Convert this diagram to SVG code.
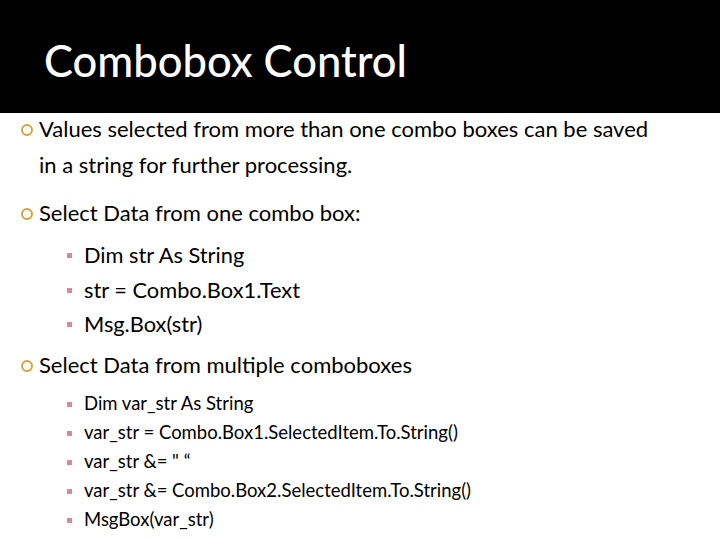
<svg xmlns="http://www.w3.org/2000/svg" width="720" height="540" viewBox="0 0 720 540">
<style>
text{font-family:Lato,"Open Sans",sans-serif;fill:#000}
.t{font-size:43.5px;fill:#fff;font-weight:500}
.l1{font-size:22px}
.l2{font-size:21.8px}
.l3{font-size:18.5px}
.c{fill:none;stroke:#d4a53a;stroke-width:2}
.s{fill:#d58a98}
</style>
<rect width="720" height="540" fill="#fff"/>
<rect width="720" height="113" fill="#000"/>
<text class="t" x="44" y="77">Combobox Control</text>
<g id="b1"><circle class="c" cx="27" cy="130" r="5"/>
<text class="l1" x="39" y="137">Values selected from more than one combo boxes can be saved</text>
<text class="l1" x="39" y="173">in a string for further processing.</text></g>
<g id="b2"><circle class="c" cx="27" cy="214" r="5"/>
<text class="l1" x="39" y="221">Select Data from one combo box:</text></g>
<g id="s1">
<rect class="s" x="67" y="253" width="5" height="5"/><text class="l2" x="84" y="263">Dim str As String</text>
<rect class="s" x="67" y="288" width="5" height="5"/><text class="l2" x="84" y="298">str = Combo.Box1.Text</text>
<rect class="s" x="67" y="322" width="5" height="5"/><text class="l2" x="84" y="332">Msg.Box(str)</text></g>
<g id="b3"><circle class="c" cx="27" cy="366" r="5"/>
<text class="l1" x="39" y="373">Select Data from multiple comboboxes</text></g>
<g id="s2">
<rect class="s" x="67" y="402" width="5" height="5"/><text class="l3" x="84" y="410">Dim var_str As String</text>
<rect class="s" x="67" y="431" width="5" height="5"/><text class="l3" x="84" y="439">var_str = Combo.Box1.SelectedItem.To.String()</text>
<rect class="s" x="67" y="460" width="5" height="5"/><text class="l3" x="84" y="468">var_str &amp;= " “</text>
<rect class="s" x="67" y="489" width="5" height="5"/><text class="l3" x="84" y="497">var_str &amp;= Combo.Box2.SelectedItem.To.String()</text>
<rect class="s" x="67" y="518" width="5" height="5"/><text class="l3" x="84" y="526">MsgBox(var_str)</text></g>
</svg>
